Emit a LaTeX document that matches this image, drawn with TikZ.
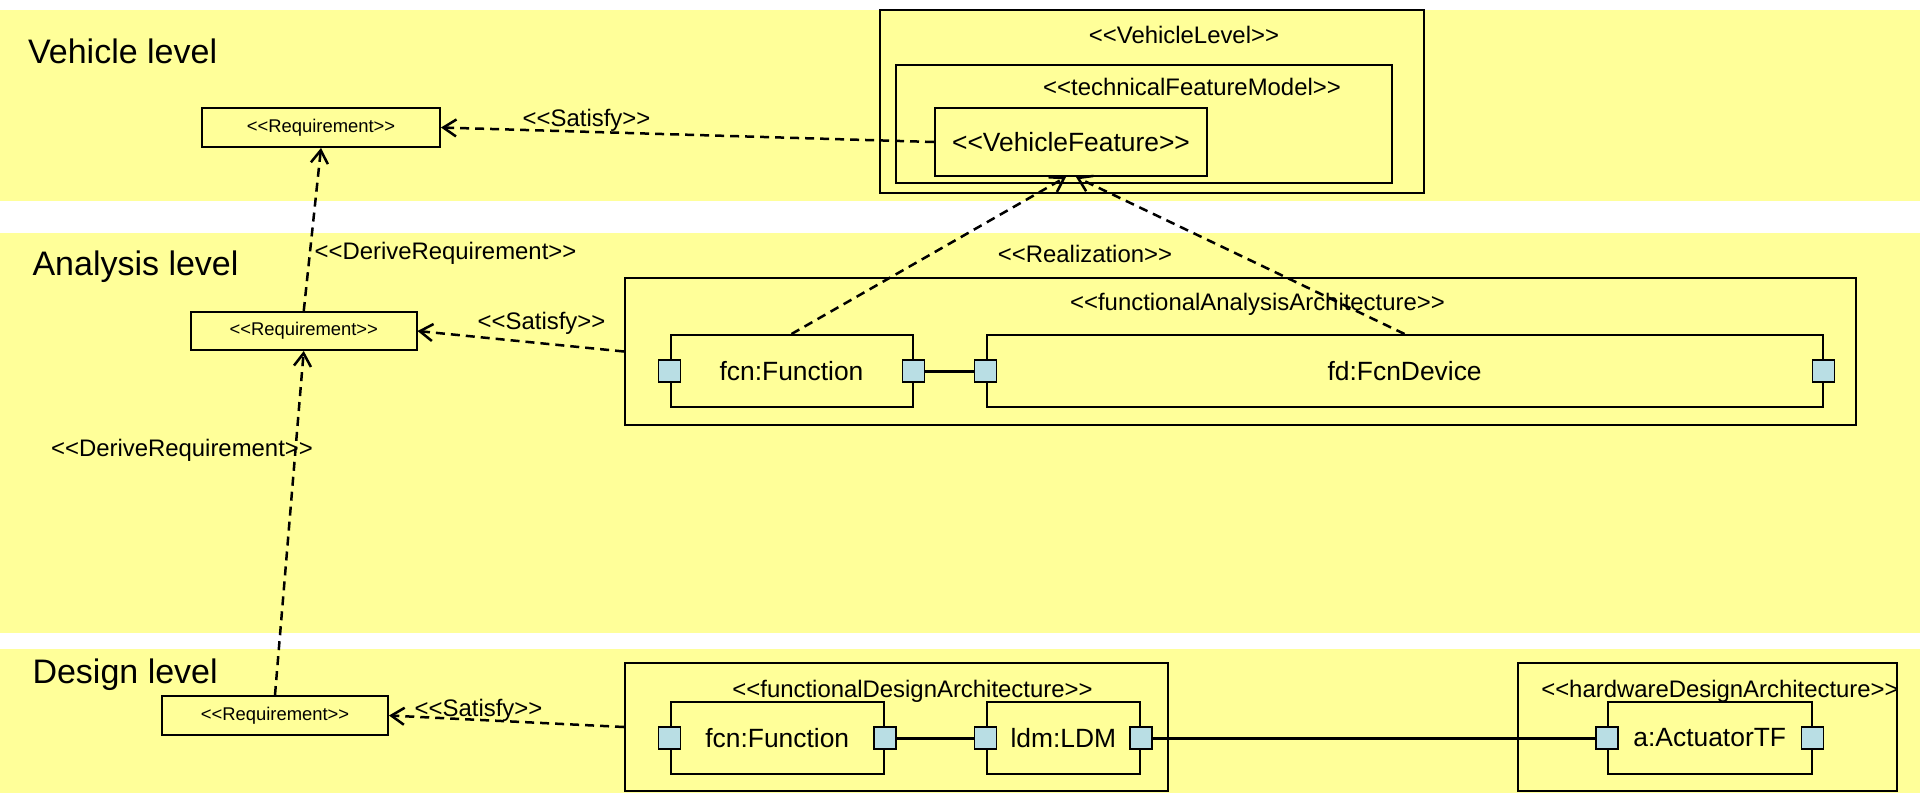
\documentclass[tikz,border=0pt]{standalone}
\usepackage{fontspec}
\setmainfont{Liberation Sans}
\usetikzlibrary{arrows.meta}
\usetikzlibrary{positioning}
\definecolor{bandyellow}{RGB}{255,255,153}
\definecolor{portblue}{RGB}{185,222,228}
\newcommand{\stype}[1]{<{}<#1>{}>}

\begin{document}
\begin{tikzpicture}[x=1pt,y=-1pt,>={Straight Barb[length=13pt,width=17pt]},
    level/.style={anchor=base west,font=\fontsize{34}{40}\selectfont},
    stereo/.style={anchor=base,inner sep=0pt,font=\fontsize{23.9}{28}\selectfont},
    req node/.style={draw,line width=2pt,inner sep=0pt,minimum width=#1,minimum height=39pt,font=\fontsize{18.4}{22}\selectfont},
    box/.style={draw,line width=2pt,inner sep=0pt},
    part/.style={draw,line width=2pt,inner sep=0pt,minimum width=#1,minimum height=72pt,font=\fontsize{26.4}{31}\selectfont},
    port/.style={draw,line width=1.5pt,fill=portblue,inner sep=0pt,minimum size=22pt},
    dep/.style={->,dash pattern=on 9pt off 6pt,line width=2.5pt},
    wire/.style={-,line width=3pt}]
   \useasboundingbox (0,0) rectangle (1920,793);
   % level bands
   \fill[bandyellow] (0,9.5) rectangle (1920,200.5);
   \fill[bandyellow] (0,232.5) rectangle (1920,633);
   \fill[bandyellow] (0,649) rectangle (1920,793);
   \node[level] (tv) at (24.6,63) {Vehicle level};
   \node[level] (ta) at (29,275) {Analysis level};
   \node[level] (td) at (29,683) {Design level};

   % requirements
   \node[req node=238pt] (reqV) at (321,127.5) {\stype{Requirement}};
   \node[req node=225.5pt,minimum height=38pt] (reqA) at (303.75,331) {\stype{Requirement}};
   \node[req node=226pt] (reqD) at (275,715.5) {\stype{Requirement}};

   % vehicle level
   \node[box,minimum width=544.5pt,minimum height=183pt] (vl) at (1151.75,101.5) {};
   \node[stereo] (vlt) at (1184,43.5) {\stype{VehicleLevel}};
   \node[box,minimum width=496pt,minimum height=118pt] (tfm) at (1144,124) {};
   \node[stereo] (tfmt) at (1192,95) {\stype{technicalFeatureModel}};
   \node[part=272pt,minimum height=68pt] (vf) at (1071,142) {\stype{VehicleFeature}};

   % analysis level
   \node[box,minimum width=1231pt,minimum height=147pt] (faa) at (1240.5,351.5) {};
   \node[stereo] (faat) at (1257.5,310) {\stype{functionalAnalysisArchitecture}};
   \node[part=242pt] (fcnA) at (791.5,371) {fcn:Function};
   \node[part=836pt] (fdA) at (1404.6,371) {fd:FcnDevice};
   \node[port] (fcnA-l) at (fcnA.west) {};
   \node[port] (fcnA-r) at (fcnA.east) {};
   \node[port] (fdA-l) at (fdA.west) {};
   \node[port] (fdA-r) at (fdA.east) {};
   \node[stereo] (realt) at (1085,262) {\stype{Realization}};

   % design level
   \node[box,minimum width=543pt,minimum height=128pt] (fda) at (896.5,727) {};
   \node[stereo] (fdat) at (912.5,697) {\stype{functionalDesignArchitecture}};
   \node[part=213.5pt] (fcnD) at (777.25,738) {fcn:Function};
   \node[part=153.4pt] (ldm) at (1063.3,738) {ldm:LDM};
   \node[port] (fcnD-l) at (fcnD.west) {};
   \node[port] (fcnD-r) at (fcnD.east) {};
   \node[port] (ldm-l) at (ldm.west) {};
   \node[port] (ldm-r) at (ldm.east) {};
   \node[box,minimum width=379.4pt,minimum height=128pt] (hda) at (1707.3,727) {};
   \node[stereo] (hdat) at (1720,697) {\stype{hardwareDesignArchitecture}};
   \node[part=203.5pt] (act) at (1709.75,738) {a:ActuatorTF};
   \node[port] (act-l) at (act.west) {};
   \node[port] (act-r) at (act.east) {};

   % connectors
   \path[wire] (fcnA-r) edge (fdA-l);
   \path[wire] (fcnD-r) edge (ldm-l);
   \path[wire] (ldm-r) edge (act-l);

   \path[dep] (vf.west) edge (reqV.east);
   \path[dep] (faa.west) edge (reqA.east);
   \path[dep] (fda.west) edge (reqD.east);
   \path[dep] (reqA.north) edge (reqV.south);
   \path[dep] (reqD.north) edge (reqA.south);
   \path[dep] (fcnA.north) edge ([xshift=-5pt]vf.south);
   \path[dep] (fdA.north) edge ([xshift=5pt]vf.south);
   \node[stereo] (sat1) at (586.5,126) {\stype{Satisfy}};
   \node[stereo] (sat2) at (541.5,329) {\stype{Satisfy}};
   \node[stereo] (sat3) at (478.5,716) {\stype{Satisfy}};
   \node[stereo] (der1) at (445.5,259) {\stype{DeriveRequirement}};
   \node[stereo] (der2) at (182,456) {\stype{DeriveRequirement}};
\end{tikzpicture}
\end{document}
